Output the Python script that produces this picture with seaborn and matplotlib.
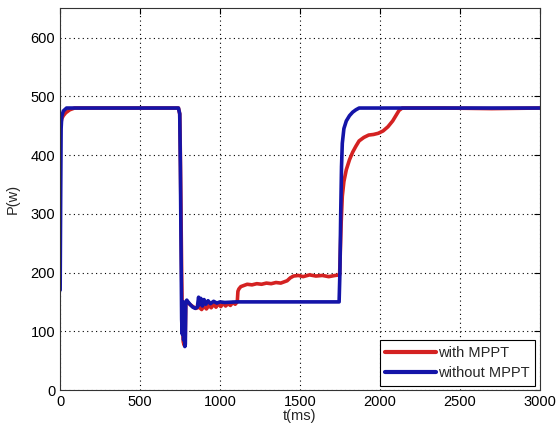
import numpy as np
import pandas as pd
import matplotlib
matplotlib.use("Agg")
import matplotlib.pyplot as plt
import seaborn as sns

# ---- data ----
t_with = [0, 5, 10, 20, 35, 60, 90, 300, 500, 740, 748, 752, 756, 760, 765, 770, 776, 782,
          786, 795, 810, 830, 850, 870, 885, 900, 915, 930, 945, 960, 975, 990, 1005, 1020,
          1035, 1050, 1065, 1080, 1095, 1108, 1112, 1118, 1130, 1150, 1170, 1200, 1230,
          1260, 1290, 1320, 1350, 1380, 1400, 1420, 1440, 1460, 1490, 1520, 1560, 1600,
          1640, 1680, 1720, 1748, 1752, 1758, 1765, 1775, 1790, 1810, 1830, 1850, 1870,
          1900, 1930, 1960, 1990, 2020, 2050, 2080, 2100, 2120, 2140, 2400, 2700, 3000]
p_with = [440, 455, 462, 467, 472, 477, 480, 480, 480, 480, 470, 400, 300, 200, 110, 82, 76, 85,
          150, 150, 146, 142, 139, 141, 137, 143, 138, 144, 140, 146, 141, 147, 142, 148,
          143, 147, 144, 149, 146, 150, 168, 172, 176, 178, 180, 179, 181, 180, 182, 181,
          183, 182, 184, 186, 191, 194, 195, 193, 196, 194, 195, 193, 195, 196, 230, 285,
          330, 355, 375, 392, 405, 415, 424, 430, 434, 435, 437, 441, 448, 458, 467, 476,
          480, 480, 479, 480]

t_without = [0, 3, 6, 10, 20, 40, 300, 500, 740, 748, 752, 756, 760, 764, 768, 772, 776, 780,
             783, 786, 792, 800, 815, 830, 845, 858, 866, 872, 880, 890, 900, 912, 925, 940,
             960, 980, 1000, 1030, 1100, 1400, 1745, 1750, 1755, 1760, 1765, 1775, 1790,
             1810, 1830, 1850, 1870, 2200, 2600, 3000]
p_without = [170, 320, 445, 466, 475, 480, 480, 480, 480, 470, 380, 250, 120, 95, 150, 85, 130, 74,
             78, 150, 153, 150, 145, 141, 139, 141, 158, 145, 156, 143, 154, 146, 152, 147,
             151, 148, 150, 149, 150, 150, 150, 200, 300, 380, 420, 445, 458,
             467, 473, 477, 480, 480, 480, 480]

series_names = ["with MPPT", "without MPPT"]
x_ticks = [0, 500, 1000, 1500, 2000, 2500, 3000]
y_ticks = [0, 100, 200, 300, 400, 500, 600]

df = pd.concat([
    pd.DataFrame({"t": t_with, "P": p_with, "series": series_names[0]}),
    pd.DataFrame({"t": t_without, "P": p_without, "series": series_names[1]}),
], ignore_index=True)

sns.set_style("white")
plt.rcParams["font.family"] = ["Liberation Sans", "DejaVu Sans"]

fig = plt.figure(figsize=(5.57, 4.30), dpi=100)
ax = fig.add_axes([0.108, 0.093, 0.861, 0.888])

sns.lineplot(data=df, x="t", y="P", hue="series", sort=False, estimator=None,
             palette={"with MPPT": "#d42222", "without MPPT": "#1414a8"},
             linewidth=2.6, ax=ax)

ax.set_xlim(0, 3000)
ax.set_ylim(0, 650)
ax.set_xticks(x_ticks)
ax.set_yticks(y_ticks)
ax.grid(True, color="black", linestyle=(0, (1, 3)), linewidth=0.8)
ax.tick_params(direction="in", top=True, right=True, length=4, labelsize=10.5, colors="black")
for s in ax.spines.values():
    s.set_color("#333333")
    s.set_linewidth(0.8)
ax.set_xlabel("t(ms)", fontsize=10.5, labelpad=0)
ax.set_ylabel("P(w)", fontsize=10.5, labelpad=8)

leg = ax.legend(loc="lower right", frameon=True, fontsize=10.5, handlelength=3.5,
                borderaxespad=0.3, fancybox=False, edgecolor="black", framealpha=1,
                handletextpad=0.1, labelspacing=0.4)
leg.get_frame().set_linewidth(0.8)
for line in leg.get_lines():
    line.set_linewidth(3)

fig.savefig("out.png", dpi=100)
